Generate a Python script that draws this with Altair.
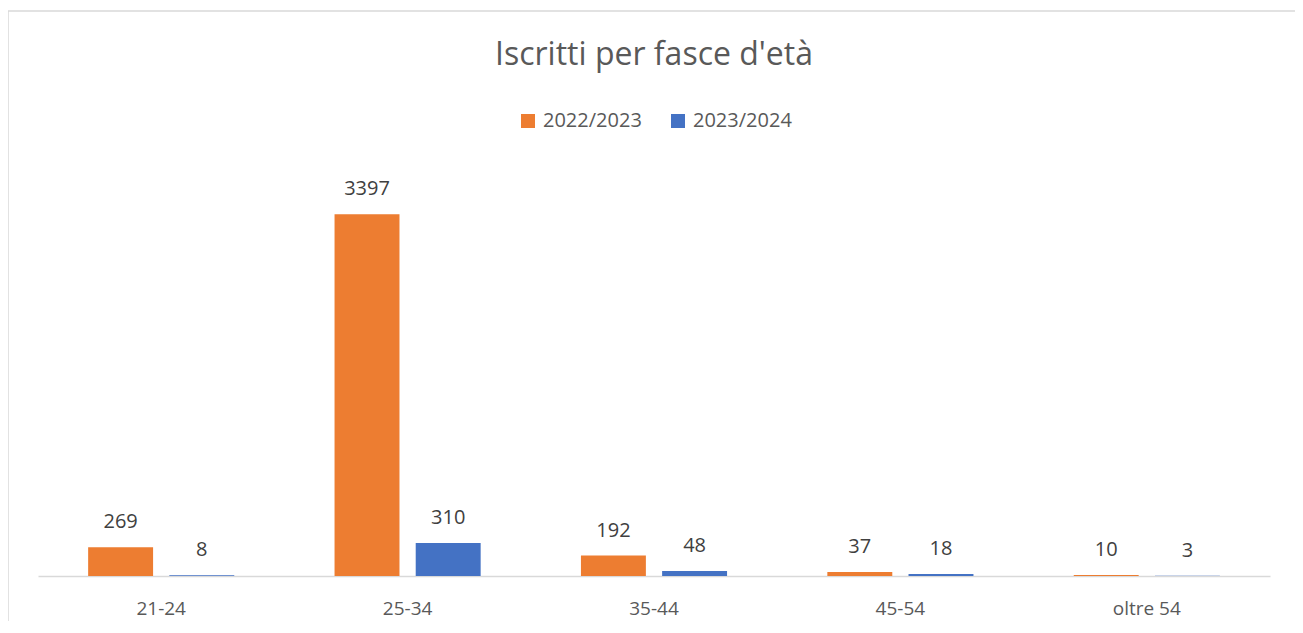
import altair as alt
import pandas as pd

categories = ["21-24", "25-34", "35-44", "45-54", "oltre 54"]
series_names = ["2022/2023", "2023/2024"]
values_2022 = [269, 3397, 192, 37, 10]
values_2023 = [8, 310, 48, 18, 3]
colors = ["#ED7D31", "#4472C4"]

rows = []
for c, v1, v2 in zip(categories, values_2022, values_2023):
    rows.append({"fascia": c, "anno": series_names[0], "iscritti": v1})
    rows.append({"fascia": c, "anno": series_names[1], "iscritti": v2})
df = pd.DataFrame(rows)

FONT = "Open Sans"
W, H = 1232, 426

x = alt.X("fascia:N", sort=categories,
          scale=alt.Scale(paddingInner=0.407, paddingOuter=0.2035),
          axis=alt.Axis(title=None, labelAngle=0, ticks=False, domainColor="#d9d9d9",
                        domainWidth=1.5, labelFont=FONT, labelFontSize=19,
                        labelColor="#595959", labelPadding=23))
xoff = alt.XOffset("anno:N", sort=series_names,
                   scale=alt.Scale(paddingInner=0.2, paddingOuter=0))
y = alt.Y("iscritti:Q", scale=alt.Scale(domain=[0, 4000], nice=False), axis=None)
color = alt.Color("anno:N", sort=series_names,
                  scale=alt.Scale(domain=series_names, range=colors),
                  legend=alt.Legend(title=None, orient="none", direction="horizontal",
                                    legendX=480, legendY=-39, symbolType="square",
                                    symbolSize=196, symbolStrokeWidth=0,
                                    labelFont=FONT, labelFontSize=20, labelColor="#595959",
                                    labelOffset=5, columnPadding=26, padding=0))

base = alt.Chart(df)
bars = base.mark_bar().encode(x=x, xOffset=xoff, y=y, color=color)
labels = base.mark_text(font=FONT, fontSize=20, color="#404040", baseline="middle",
                        dy=-25).encode(x=x, xOffset=xoff, y=y, text="iscritti:Q")

border = alt.Chart(pd.DataFrame({"b": [0]})).mark_rect(
    fill=None, stroke="#d9d9d9", strokeWidth=1.5).encode(
    x=alt.value(-30), x2=alt.value(1261), y=alt.value(-139), y2=alt.value(520))

chart = alt.layer(border, bars, labels).properties(
    width=W, height=H, background="white",
    title=alt.Title("Iscritti per fasce d'età", font=FONT, fontSize=32,
                    fontWeight="normal", color="#595959", anchor="middle", offset=-62),
    autosize=alt.AutoSizeParams(type="none"),
    padding={"left": 30, "top": 142, "right": 25, "bottom": 45},
).configure_view(strokeWidth=0, stroke=None)

chart.save("out.html", embed_options={"renderer": "svg", "actions": False})
